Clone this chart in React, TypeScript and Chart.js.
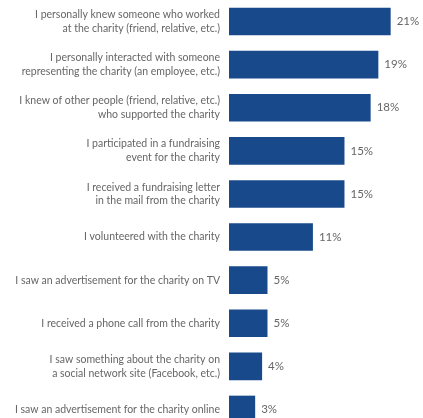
import React, { useEffect, useRef } from "react";
import { Chart, registerables } from "chart.js";

Chart.register(...registerables);

const categories: string[][] = [
  ["I personally knew someone who worked", "at the charity (friend, relative, etc.)"],
  ["I personally interacted with someone", "representing the charity (an employee, etc.)"],
  ["I knew of other people (friend, relative, etc.)", "who supported the charity"],
  ["I participated in a fundraising", "event for the charity"],
  ["I received a fundraising letter", "in the mail from the charity"],
  ["I volunteered with the charity"],
  ["I saw an advertisement for the charity on TV"],
  ["I received a phone call from the charity"],
  ["I saw something about the charity on", "a social network site (Facebook, etc.)"],
  ["I saw an advertisement for the charity online"],
];

const values: number[] = [21, 19.4, 18.4, 15, 15, 10.9, 5, 5, 4.3, 3.4];

const BAR_COLOR = "#184a8b";
const TEXT_COLOR = "#666666";

const valueLabelPlugin = {
  id: "valueLabels",
  afterDatasetsDraw(chart: any) {
    const ctx = chart.ctx;
    const meta = chart.getDatasetMeta(0);
    ctx.save();
    ctx.font = "11.5px Lato";
    ctx.fillStyle = TEXT_COLOR;
    ctx.textAlign = "left";
    ctx.textBaseline = "middle";
    meta.data.forEach((bar: any, i: number) => {
      ctx.fillText(Math.round(values[i]) + "%", bar.x + 6, bar.y);
    });
    ctx.restore();
  },
};

export default function App() {
  const ref = useRef<HTMLCanvasElement | null>(null);
  useEffect(() => {
    if (!ref.current) return;
    const chart = new Chart(ref.current, {
      type: "bar",
      data: {
        labels: categories,
        datasets: [
          {
            data: values,
            backgroundColor: BAR_COLOR,
            barPercentage: 0.8,
            categoryPercentage: 0.8,
          },
        ],
      },
      options: {
        indexAxis: "y",
        animation: false,
        responsive: false,
        devicePixelRatio: 1,
        layout: { padding: 0 },
        plugins: { legend: { display: false }, tooltip: { enabled: false } },
        scales: {
          x: { display: false, min: 0, max: 25.2 },
          y: {
            grid: { display: false, drawTicks: false },
            border: { display: false },
            afterFit: (scale: any) => {
              scale.width = 229;
              scale.paddingTop = 0;
              scale.paddingBottom = 0;
            },
            ticks: {
              padding: 9,
              color: TEXT_COLOR,
              font: { family: "Lato", size: 10.5, lineHeight: 1.3 },
              autoSkip: false,
            },
          },
        },
      },
      plugins: [valueLabelPlugin],
    });
    return () => chart.destroy();
  }, []);
  return (
    <div
      style={{
        position: "fixed",
        top: 0,
        left: 0,
        width: 423,
        height: 418,
        overflow: "hidden",
        background: "#fff",
      }}
    >
      <canvas ref={ref} width={423} height={431} style={{ display: "block" }} />
    </div>
  );
}
